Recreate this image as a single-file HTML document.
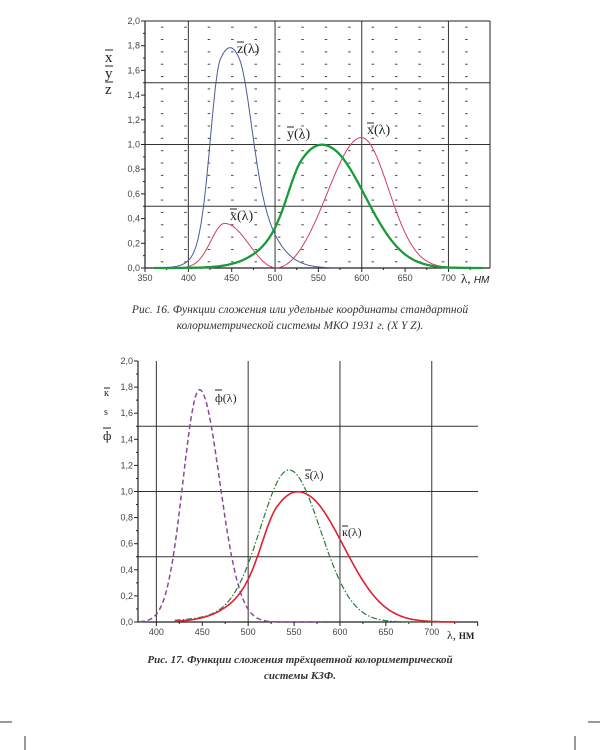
<!DOCTYPE html>
<html><head><meta charset="utf-8">
<style>
html,body{margin:0;padding:0;background:#fff;}
body{width:600px;height:750px;position:relative;overflow:hidden;font-family:"Liberation Serif",serif;}
.cap{position:absolute;left:0;width:600px;text-align:center;font-style:italic;font-size:11.5px;line-height:16px;color:#333;}
svg{position:absolute;left:0;top:0;}
</style></head><body>
<svg id="s" width="600" height="750" xmlns="http://www.w3.org/2000/svg" font-family="Liberation Sans, sans-serif"></svg>
<div class="cap" style="top:302px">Рис. 16. Функции сложения или удельные координаты стандартной<br>колориметрической системы МКО 1931 г. (X Y Z).</div>
<div class="cap" style="top:652px;font-weight:bold;font-size:11px">Рис. 17. Функции сложения трёхцветной колориметрической<br>системы КЗФ.</div>
<script>
var s=document.getElementById('s'),h='';
function g(l,m,a,b){var t=(l-m)/(l<m?a:b);return Math.exp(-0.5*t*t);}
function X(l){return 1.056*g(l,599.8,37.9,31)+0.362*g(l,442,16,26.7)-0.065*g(l,501.1,20.4,26.2);}
function Y(l){return 0.821*g(l,568.8,46.9,40.5)+0.286*g(l,530.9,16.3,31.1);}
function Z(l){return 1.217*g(l,437,11.8,36)+0.681*g(l,459,26,13.8);}
function S(l){return 1.1*g(l,545,31,34)+0.07*g(l,530,60,40);}
function path(f,x0,sx,l0,y0,sy,a,b,st){var d='';for(var l=a;l<=b;l+=1){var v=f(l);d+=(d?'L':'M')+(x0+(l-l0)*sx).toFixed(1)+','+(y0-v*sy).toFixed(1);}h+='<path d="'+d+'" fill="none" '+st+'/>';}
function chart(o){
 var L=o.L,R=o.R,T=o.T,B=o.B,sx=o.sx,l0=o.l0,sy=(B-T)/2;
 function px(l){return L+(l-l0)*sx;}
 if(o.dots){for(var l=370;l<740;l+=27){for(var v=0.05;v<2;v+=0.1){h+='<line x1="'+(px(l)-1.5)+'" x2="'+(px(l)+1)+'" y1="'+(B-v*sy)+'" y2="'+(B-v*sy)+'" stroke="#444" stroke-width="1"/>';}}}
 [400,500,600,700].forEach(function(l){h+='<line x1="'+px(l)+'" x2="'+px(l)+'" y1="'+T+'" y2="'+B+'" stroke="#333" stroke-width="1"/>';});
 [0.5,1,1.5].forEach(function(v){h+='<line x1="'+L+'" x2="'+R+'" y1="'+(B-v*sy)+'" y2="'+(B-v*sy)+'" stroke="#333" stroke-width="1"/>';});
 h+='<line x1="'+L+'" x2="'+L+'" y1="'+T+'" y2="'+B+'" stroke="#222" stroke-width="1.2"/>';
 h+='<line x1="'+L+'" x2="'+R+'" y1="'+B+'" y2="'+B+'" stroke="#222" stroke-width="1.2"/>';
 if(o.box){h+='<line x1="'+L+'" x2="'+R+'" y1="'+T+'" y2="'+T+'" stroke="#222"/><line x1="'+R+'" x2="'+R+'" y1="'+T+'" y2="'+B+'" stroke="#222"/>';}
 for(var i=0;i<=20;i++){var y=B-i*0.1*sy,len=i%2?2:4;h+='<line x1="'+(L-len)+'" x2="'+L+'" y1="'+y+'" y2="'+y+'" stroke="#222"/>';
  if(i%2==0)h+='<text x="'+(L-5)+'" y="'+(y+3)+'" font-size="9" fill="#444" text-anchor="end">'+(i/10).toFixed(1).replace('.',',')+'</text>';}
 for(var l=o.t0;l<=o.t1;l+=25){var x=px(l),len=l%50?2:4;h+='<line x1="'+x+'" x2="'+x+'" y1="'+B+'" y2="'+(B+len)+'" stroke="#222"/>';
  if(l%50==0&&l<=700)h+='<text x="'+x+'" y="'+(B+13)+'" font-size="9" fill="#444" text-anchor="middle">'+l+'</text>';}
}
chart({L:145,R:490,T:21,B:268,sx:0.867,l0:350,dots:true,box:true,t0:350,t1:725});
var T1=[145,0.867,350,268,123.5];
path(Z,T1[0],T1[1],T1[2],T1[3],T1[4],360,572,'stroke="#4a5a9a" stroke-width="1"');
path(X,T1[0],T1[1],T1[2],T1[3],T1[4],380,740,'stroke="#d04060" stroke-width="1"');
path(Y,T1[0],T1[1],T1[2],T1[3],T1[4],360,740,'stroke="#1a9a3a" stroke-width="2.3"');
h+='<g font-family="Liberation Serif,serif" font-size="14" fill="#222">';
h+='<text x="237" y="53">z(λ)</text><line x1="237" x2="244" y1="42" y2="42" stroke="#222"/>';
h+='<text x="230" y="220">x(λ)</text><line x1="230" x2="237" y1="209" y2="209" stroke="#222"/>';
h+='<text x="287" y="138">y(λ)</text><line x1="287" x2="294" y1="127" y2="127" stroke="#222"/>';
h+='<text x="367" y="134">x(λ)</text><line x1="367" x2="374" y1="123" y2="123" stroke="#222"/>';
h+='<text x="105" y="62" font-size="15">x</text><line x1="105" x2="113" y1="50" y2="50" stroke="#222"/>';
h+='<text x="105" y="78" font-size="15">y</text><line x1="105" x2="113" y1="66" y2="66" stroke="#222"/>';
h+='<text x="105" y="94" font-size="15">z</text><line x1="105" x2="113" y1="82" y2="82" stroke="#222"/>';
h+='<text x="461" y="283" font-size="13">λ, <tspan font-style="italic" font-family="Liberation Sans,sans-serif" font-size="10">НМ</tspan></text>';
h+='</g>';
chart({L:138,R:478,T:361,B:622,sx:0.918,l0:380,dots:false,box:false,t0:400,t1:750});
var B1=[138,0.918,380,622,130.5];
path(function(l){return 1.78*g(l,447,18,22);},B1[0],B1[1],B1[2],B1[3],B1[4],382,580,'stroke="#8a4a9a" stroke-width="1.5" stroke-dasharray="5,3"');
path(S,B1[0],B1[1],B1[2],B1[3],B1[4],420,700,'stroke="#2a7a3a" stroke-width="1.2" stroke-dasharray="6,2,1.5,2"');
path(Y,B1[0],B1[1],B1[2],B1[3],B1[4],420,725,'stroke="#e02030" stroke-width="1.6"');
h+='<g font-family="Liberation Serif,serif" font-size="12" fill="#222">';
h+='<text x="215" y="402">ф(λ)</text><line x1="215" x2="222" y1="390" y2="390" stroke="#222"/>';
h+='<text x="305" y="479">s(λ)</text><line x1="305" x2="311" y1="470" y2="470" stroke="#222"/>';
h+='<text x="342" y="536">к(λ)</text><line x1="342" x2="348" y1="526" y2="526" stroke="#222"/>';
h+='<text x="104" y="396" font-size="10">к</text><line x1="104" x2="110" y1="388" y2="388" stroke="#222"/>';
h+='<text x="104" y="415" font-size="10">s</text>';
h+='<text x="103" y="440" font-size="13">ф</text><line x1="103" x2="111" y1="428" y2="428" stroke="#222"/>';
h+='<text x="447" y="639" font-size="12">λ, <tspan font-weight="bold" font-size="9">НМ</tspan></text>';
h+='</g>';
h+='<line x1="0" x2="12" y1="722" y2="722" stroke="#333"/><line x1="25" x2="25" y1="736" y2="750" stroke="#333"/>';
h+='<line x1="588" x2="600" y1="722" y2="722" stroke="#333"/><line x1="575" x2="575" y1="736" y2="750" stroke="#333"/>';
s.innerHTML=h;
</script>
</body></html>
